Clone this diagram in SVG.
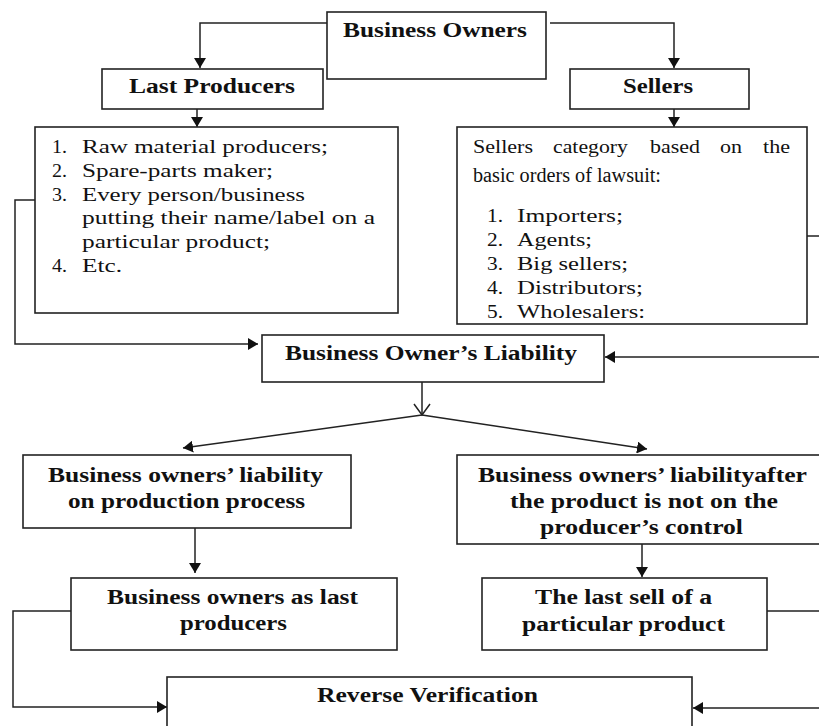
<svg xmlns="http://www.w3.org/2000/svg" width="819" height="726" viewBox="0 0 819 726">
<style>
.box{fill:#fff;stroke:#222;stroke-width:1.6}
.h{font-family:"Liberation Serif","Times New Roman",serif;font-weight:bold;font-size:20px;fill:#111}
.t{font-family:"Liberation Serif","Times New Roman",serif;font-size:18px;fill:#111}
.t2{font-family:"Liberation Serif","Times New Roman",serif;font-size:19px;fill:#111}
.c{fill:none;stroke:#222;stroke-width:1.5}
</style>
<defs>
<marker id="ah" markerUnits="userSpaceOnUse" markerWidth="10" markerHeight="12" refX="10" refY="6" orient="auto">
<path d="M0,0 L10,6 L0,12 z" fill="#111"/>
</marker>
</defs>
<rect width="819" height="726" fill="#fff"/>
<g id="connectors">
<path class="c" d="M327,23 H200 V68" marker-end="url(#ah)"/>
<path class="c" d="M550,23 H674 V68" marker-end="url(#ah)"/>
<path class="c" d="M197,109 V127" marker-end="url(#ah)"/>
<path class="c" d="M674,109 V127" marker-end="url(#ah)"/>
<path class="c" d="M35,200 H15 V344 H258" marker-end="url(#ah)"/>
<path class="c" d="M807,236 H822 V357 H605" marker-end="url(#ah)"/>
<path class="c" d="M422,382 V415"/>
<path class="c" d="M414,404 L422,415 L430,404"/>
<path class="c" d="M422,415 L183,448" marker-end="url(#ah)"/>
<path class="c" d="M422,415 L647,449" marker-end="url(#ah)"/>
<path class="c" d="M195,528 V573" marker-end="url(#ah)"/>
<path class="c" d="M642,544 V577" marker-end="url(#ah)"/>
<path class="c" d="M71,611 H13 V707 H167" marker-end="url(#ah)"/>
<path class="c" d="M767,611 H822 V708 H693" marker-end="url(#ah)"/>
</g>
<g id="business-owners">
<rect class="box" x="327" y="12" width="219" height="67"/>
<text class="h" x="343" y="37" textLength="184" lengthAdjust="spacingAndGlyphs">Business Owners</text>
</g>
<g id="last-producers">
<rect class="box" x="102" y="69" width="221" height="40"/>
<text class="h" x="129" y="93" textLength="166" lengthAdjust="spacingAndGlyphs">Last Producers</text>
</g>
<g id="sellers">
<rect class="box" x="570" y="69" width="179" height="40"/>
<text class="h" x="623" y="93" textLength="70" lengthAdjust="spacingAndGlyphs">Sellers</text>
</g>
<g id="producers-list">
<rect class="box" x="35" y="127" width="363" height="186"/>
<text class="t" x="52" y="153" textLength="15" lengthAdjust="spacingAndGlyphs">1.</text>
<text class="t" x="82" y="153" textLength="246" lengthAdjust="spacingAndGlyphs">Raw material producers;</text>
<text class="t" x="52" y="177" textLength="15" lengthAdjust="spacingAndGlyphs">2.</text>
<text class="t" x="82" y="177" textLength="191" lengthAdjust="spacingAndGlyphs">Spare-parts maker;</text>
<text class="t" x="52" y="201" textLength="15" lengthAdjust="spacingAndGlyphs">3.</text>
<text class="t" x="82" y="201" textLength="223" lengthAdjust="spacingAndGlyphs">Every person/business</text>
<text class="t" x="82" y="224" textLength="293" lengthAdjust="spacingAndGlyphs">putting their name/label on a</text>
<text class="t" x="82" y="248" textLength="188" lengthAdjust="spacingAndGlyphs">particular product;</text>
<text class="t" x="52" y="272" textLength="15" lengthAdjust="spacingAndGlyphs">4.</text>
<text class="t" x="82" y="272" textLength="40" lengthAdjust="spacingAndGlyphs">Etc.</text>
</g>
<g id="sellers-list">
<rect class="box" x="457" y="127" width="350" height="197"/>
<text class="t2" x="473" y="153" textLength="60" lengthAdjust="spacingAndGlyphs">Sellers</text>
<text class="t2" x="553" y="153" textLength="75" lengthAdjust="spacingAndGlyphs">category</text>
<text class="t2" x="650" y="153" textLength="50" lengthAdjust="spacingAndGlyphs">based</text>
<text class="t2" x="720" y="153" textLength="22" lengthAdjust="spacingAndGlyphs">on</text>
<text class="t2" x="763" y="153" textLength="27" lengthAdjust="spacingAndGlyphs">the</text>
<text class="t2" x="473" y="182" style="font-size:20px" textLength="188" lengthAdjust="spacingAndGlyphs">basic orders of lawsuit:</text>
<text class="t2" x="487" y="222" textLength="16" lengthAdjust="spacingAndGlyphs">1.</text>
<text class="t2" x="517" y="222" textLength="106" lengthAdjust="spacingAndGlyphs">Importers;</text>
<text class="t2" x="487" y="246" textLength="16" lengthAdjust="spacingAndGlyphs">2.</text>
<text class="t2" x="517" y="246" textLength="75" lengthAdjust="spacingAndGlyphs">Agents;</text>
<text class="t2" x="487" y="270" textLength="16" lengthAdjust="spacingAndGlyphs">3.</text>
<text class="t2" x="517" y="270" textLength="111" lengthAdjust="spacingAndGlyphs">Big sellers;</text>
<text class="t2" x="487" y="294" textLength="16" lengthAdjust="spacingAndGlyphs">4.</text>
<text class="t2" x="517" y="294" textLength="126" lengthAdjust="spacingAndGlyphs">Distributors;</text>
<text class="t2" x="487" y="318" textLength="16" lengthAdjust="spacingAndGlyphs">5.</text>
<text class="t2" x="517" y="318" textLength="128" lengthAdjust="spacingAndGlyphs">Wholesalers:</text>
</g>
<g id="liability">
<rect class="box" x="262" y="335" width="342" height="47"/>
<text class="h" x="285" y="360" textLength="292" lengthAdjust="spacingAndGlyphs">Business Owner’s Liability</text>
</g>
<g id="production-liability">
<rect class="box" x="23" y="455" width="328" height="73"/>
<text class="h" x="48" y="482" textLength="275" lengthAdjust="spacingAndGlyphs">Business owners’ liability</text>
<text class="h" x="68" y="508" textLength="237" lengthAdjust="spacingAndGlyphs">on production process</text>
</g>
<g id="after-liability">
<rect class="box" x="457" y="455" width="364" height="89"/>
<text class="h" x="478" y="482" textLength="329" lengthAdjust="spacingAndGlyphs">Business owners’ liabilityafter</text>
<text class="h" x="510" y="508" textLength="268" lengthAdjust="spacingAndGlyphs">the product is not on the</text>
<text class="h" x="540" y="534" textLength="203" lengthAdjust="spacingAndGlyphs">producer’s control</text>
</g>
<g id="last-producers-owners">
<rect class="box" x="71" y="578" width="326" height="72"/>
<text class="h" x="107" y="604" textLength="251" lengthAdjust="spacingAndGlyphs">Business owners as last</text>
<text class="h" x="180" y="630" textLength="107" lengthAdjust="spacingAndGlyphs">producers</text>
</g>
<g id="last-sell">
<rect class="box" x="482" y="578" width="285" height="72"/>
<text class="h" x="535" y="604" textLength="177" lengthAdjust="spacingAndGlyphs">The last sell of a</text>
<text class="h" x="522" y="631" textLength="203" lengthAdjust="spacingAndGlyphs">particular product</text>
</g>
<g id="reverse-verification">
<rect class="box" x="167" y="677" width="525" height="60"/>
<text class="h" x="317" y="702" textLength="221" lengthAdjust="spacingAndGlyphs">Reverse Verification</text>
</g>
</svg>
